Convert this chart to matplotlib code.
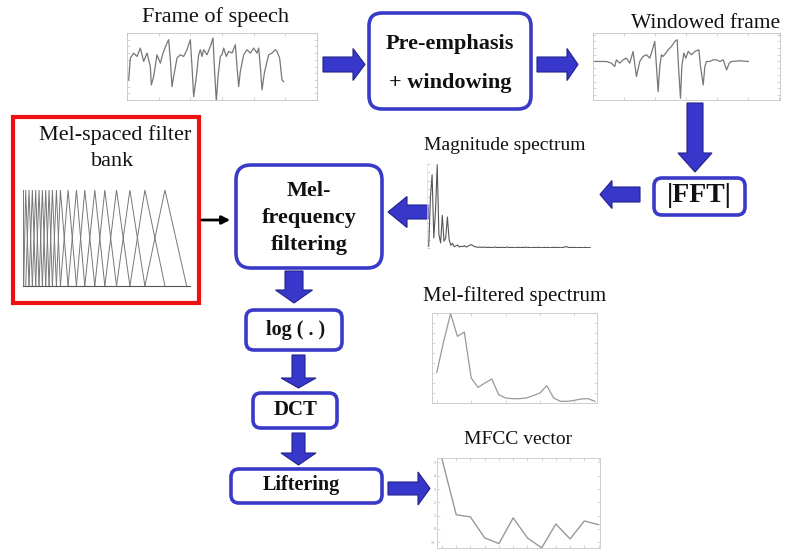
import matplotlib
matplotlib.use("Agg")
import matplotlib.pyplot as plt
from matplotlib.patches import FancyBboxPatch, FancyArrow, Rectangle
import numpy as np

plt.rcParams['font.family'] = ['Liberation Serif', 'DejaVu Serif']

# ---------------- data ----------------
speech_t = [5, 10, 20, 30, 40, 50, 60, 70, 73, 80, 90, 100, 108, 120, 125, 130, 135, 140, 150,
            160, 170, 180, 190, 195, 200, 208, 215, 220, 225, 230, 240, 250, 258, 262, 268, 273,
            280, 285, 290, 298, 305, 315, 325, 330, 335, 340, 350, 360, 370, 380, 390, 395, 400,
            405, 412, 420, 425, 435, 445, 450, 458, 465, 470]
speech_amp = [-40, 25, 40, 30, 55, 15, 40, 0, -55, -30, 35, 10, 40, 70, 80, 20, -60, -30, 25,
              35, 30, 50, 80, 0, -90, -30, 35, 50, 30, 50, 35, 60, 85, 0, -105, -30, 30, 35, 55,
              30, 45, 40, 65, 0, -60, -15, 35, 50, 40, 55, 40, 55, 0, -70, -20, 15, 35, 40, 50,
              45, 25, -40, -45]

win_t = [5, 40, 55, 65, 70, 80, 90, 100, 110, 120, 130, 140, 150, 160, 170, 175, 185, 190, 195,
         200, 205, 210, 218, 225, 235, 245, 252, 256, 262, 266, 272, 278, 285, 295, 305, 317, 322,
         330, 335, 340, 350, 360, 370, 380, 390, 400, 408, 415, 440, 465]
win_amp = [0, 0, -5, -15, 5, -5, 5, 10, -5, 30, -45, 0, 15, 20, 10, 25, 60, -15, -90, -15, 20,
           15, 25, 35, 45, 60, 65, -15, -110, -15, 25, 10, 30, 20, 30, 35, -15, -70, -15, 0, 0,
           5, 5, 0, 5, -25, -5, 0, 2, 0]

mag_spectrum = [5, 150, 217, 30, 110, 247, 40, 15, 97, 20, 30, 92, 25, 8, 14, 4, 6, 9, 3, 5,
                4, 7, 3, 5, 8, 10, 7, 4, 3, 2, 3, 2, 2, 3, 1, 2, 2, 1, 2, 3, 1, 2, 1, 2, 2,
                1, 3, 2, 1, 2, 1, 1, 2, 2, 1, 2, 1, 3, 1, 2, 1, 1, 2, 1, 2, 2, 1, 1, 2, 1,
                2, 1, 1, 2, 2, 1, 2, 1, 1, 2, 3, 4, 2, 1, 2, 1, 2, 1, 1, 2, 1, 1, 2, 1, 1, 1]

filter_edges_hz = [16, 64, 144, 224, 304, 384, 464, 544, 624, 704, 800, 896, 1080, 1280, 1480,
                   1720, 1960, 2240, 2560, 2920, 3400, 3920]

mel_spectrum = [92, 185, 268, 200, 213, 75, 47, 60, 72, 25, 15, 13, 13, 15, 22, 30, 52, 15, 5,
                5, 8, 12, 13, 5]

mfcc_values = [5.25, 1.07, 0.9, -0.67, -1.1, 0.83, -0.67, -1.42, 0.37, -0.75, 0.6, 0.32]
mfcc_ticks = [-1, 0, 1, 2, 3, 4, 5]

# ---------------- figure ----------------
W, H = 786, 553
fig = plt.figure(figsize=(W / 100, H / 100), dpi=100)
ax = fig.add_axes([0, 0, 1, 1])
ax.set_xlim(0, W)
ax.set_ylim(H, 0)
ax.axis('off')

BLUE_EDGE = '#3a3ac8'
ARROW_FILL = '#3737cc'
ARROW_EDGE = '#22228a'


def box(x0, y0, x1, y1, r):
    p = FancyBboxPatch((x0, y0), x1 - x0, y1 - y0,
                       boxstyle=f"round,pad=0,rounding_size={r}",
                       fc='white', ec=BLUE_EDGE, lw=2.6, zorder=3)
    ax.add_patch(p)


def arrow(x, y, dx, dy, width, hw, hl):
    a = FancyArrow(x, y, dx, dy, width=width, head_width=hw, head_length=hl,
                   length_includes_head=True, fc=ARROW_FILL, ec=ARROW_EDGE, lw=0.8, zorder=4)
    ax.add_patch(a)


def inset(x0, y0, x1, y1):
    a = fig.add_axes([x0 / W, 1 - y1 / H, (x1 - x0) / W, (y1 - y0) / H])
    return a


def style_frame(a, color='#b0b0b0'):
    for s in a.spines.values():
        s.set_color(color)
        s.set_linewidth(0.6)
    a.tick_params(direction='in', length=2, width=0.5, color=color,
                  labelbottom=False, labelleft=False, top=True, right=True)


# boxes
box(369, 13, 531, 109, 13)
box(654, 178, 745, 215, 8)
box(236, 165, 382, 268, 15)
box(246, 310, 342, 350, 8)
box(253, 393, 337, 428, 8)
box(231, 469, 382, 503, 8)
ax.add_patch(Rectangle((13, 117), 186, 186, fc='white', ec='#ee1111', lw=3.0, zorder=3))

# box texts
bold = dict(fontweight='bold', ha='center', va='center', zorder=5, color='#111111')
ax.text(450, 44, 'Pre-emphasis', fontsize=16, **bold)
ax.text(450, 83, '+ windowing', fontsize=16, **bold)
ax.text(699, 196, '|FFT|', fontsize=20, **bold)
ax.text(309, 191, 'Mel-', fontsize=16, **bold)
ax.text(309, 218, 'frequency', fontsize=16, **bold)
ax.text(309, 245, 'filtering', fontsize=16, **bold)
ax.text(296, 330, 'log ( . )', fontsize=14.5, **bold)
ax.text(296, 410, 'DCT', fontsize=15, **bold)
ax.text(301, 485, 'Liftering', fontsize=14.5, **bold)

# captions
cap = dict(ha='center', va='center', zorder=5, color='#111111')
ax.text(215, 17, 'Frame of speech', fontsize=16, **cap)
ax.text(706, 23, 'Windowed frame', fontsize=15.5, **cap)
ax.text(505, 146, 'Magnitude spectrum', fontsize=14, **cap)
ax.text(115, 135, 'Mel-spaced filter', fontsize=16, **cap)
ax.text(113, 162, 'bank', fontsize=16, **cap)
ax.text(515, 296, 'Mel-filtered spectrum', fontsize=15, **cap)
ax.text(518, 440, 'MFCC vector', fontsize=14, **cap)

# arrows
arrow(323, 64.5, 42, 0, 15, 32, 12)
arrow(537, 64.5, 41, 0, 15, 32, 11)
arrow(695, 103, 0, 69, 16, 34, 19)
arrow(640, 194.5, -40, 0, 15, 28, 12)
arrow(428, 212, -40, 0, 14, 31, 19)
arrow(294, 271, 0, 32, 18, 37, 13)
arrow(298.5, 355, 0, 33, 13, 35, 10)
arrow(298.5, 433, 0, 32, 13, 35, 12)
arrow(388, 488.5, 42, 0, 13, 33, 12)
ax.annotate('', xy=(233, 220), xytext=(199, 220),
            arrowprops=dict(arrowstyle='-|>', color='black', lw=2, mutation_scale=12), zorder=6)

# ---------------- insets ----------------
# speech frame
a1 = inset(127, 33, 317, 100)
a1.plot(speech_t, speech_amp, color='#777777', lw=0.9)
a1.set_xlim(0, 570)
a1.set_ylim(-100, 100)
a1.set_xticks(np.arange(0, 571, 95))
a1.set_yticks(np.arange(-100, 101, 20))
style_frame(a1, '#c4c4c4')

# windowed frame
a2 = inset(593, 33, 780, 100)
a2.plot(win_t, win_amp, color='#777777', lw=0.9)
a2.set_xlim(0, 560)
a2.set_ylim(-115, 85)
a2.set_xticks(np.arange(0, 561, 93))
a2.set_yticks(np.arange(-100, 81, 20))
style_frame(a2, '#c4c4c4')

# magnitude spectrum
a3 = inset(427, 163, 592, 248)
a3.plot(np.arange(len(mag_spectrum)), mag_spectrum, color='#555555', lw=0.8)
a3.set_xlim(-1, len(mag_spectrum))
a3.set_ylim(0, 252)
for s in ['top', 'right', 'bottom']:
    a3.spines[s].set_visible(False)
a3.spines['left'].set_color('#dddddd')
a3.spines['left'].set_linewidth(0.5)
a3.set_xticks([])
a3.set_yticks(np.arange(0, 251, 25))
a3.tick_params(axis='y', direction='in', length=2, width=0.5, color='#bbbbbb', labelleft=False)
a3.patch.set_alpha(0)

# filter bank
a4 = inset(23, 190, 190, 286)
for i in range(len(filter_edges_hz) - 2):
    a4.plot(filter_edges_hz[i:i + 3], [0, 1, 0], color='#777777', lw=0.7)
a4.set_xlim(0, 4000)
a4.set_ylim(0, 1.0)
for s in ['top', 'right']:
    a4.spines[s].set_visible(False)
a4.spines['left'].set_color('#777777')
a4.spines['bottom'].set_color('#555555')
a4.spines['left'].set_linewidth(0.7)
a4.spines['bottom'].set_linewidth(0.8)
a4.set_xticks([])
a4.set_yticks([])
a4.patch.set_alpha(0)

# mel-filtered spectrum
a5 = inset(432, 313, 597, 403)
a5.plot(np.arange(len(mel_spectrum)), mel_spectrum, color='#999999', lw=0.9)
a5.set_xlim(-0.7, len(mel_spectrum) - 0.7)
a5.set_ylim(0, 270)
a5.set_xticks(np.arange(0, 25, 5))
a5.set_yticks(np.arange(0, 271, 30))
style_frame(a5, '#c8c8c8')

# MFCC vector
a6 = inset(437, 458, 600, 548)
a6.plot(np.arange(1, len(mfcc_values) + 1), mfcc_values, color='#999999', lw=1.0)
a6.set_xlim(0.65, 12.1)
a6.set_ylim(-1.43, 5.33)
a6.set_xticks(np.arange(1, 13))
a6.set_yticks(mfcc_ticks)
style_frame(a6, '#c8c8c8')
a6.tick_params(labelleft=True, labelsize=3, labelcolor='#888888', pad=1)

fig.savefig('out.png', dpi=100)
